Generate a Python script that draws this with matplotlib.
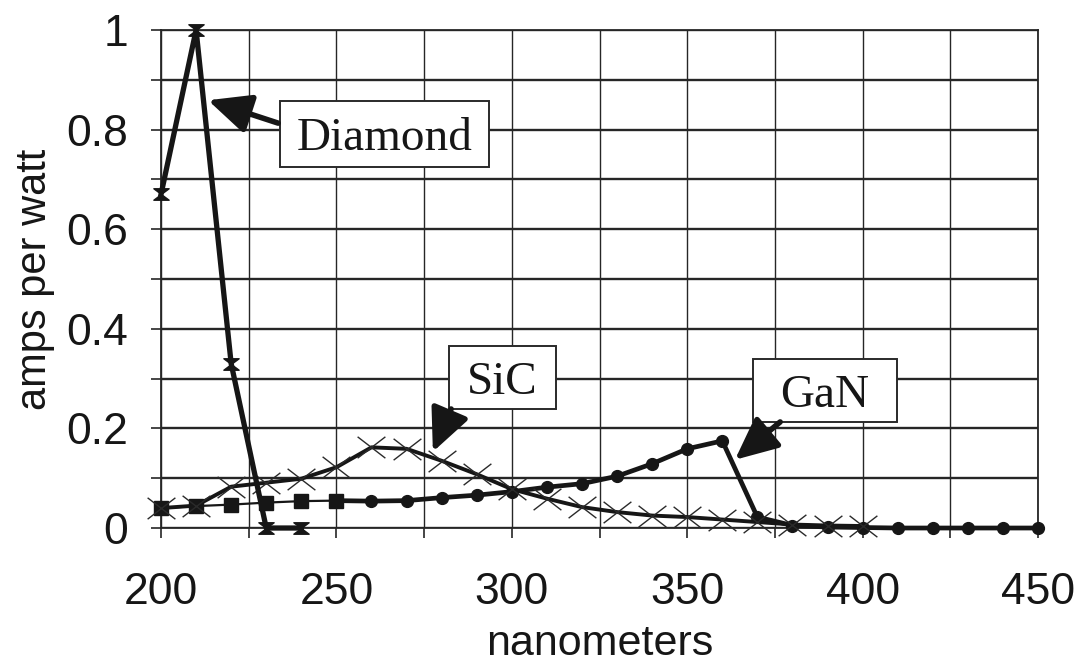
import matplotlib
matplotlib.use("Agg")
import matplotlib.pyplot as plt
from matplotlib.path import Path
from matplotlib.patches import Rectangle, FancyArrowPatch
from matplotlib.ticker import MultipleLocator

# Responsivity of wide-bandgap UV photodetectors
diamond_nm = [200, 210, 220, 230, 240]
diamond_apw = [0.67, 1.0, 0.33, 0.0, 0.0]

sic_nm = list(range(200, 401, 10))
sic_apw = [0.040, 0.045, 0.083, 0.091, 0.099, 0.122, 0.162, 0.159, 0.135, 0.108,
           0.078, 0.059, 0.042, 0.032, 0.025, 0.022, 0.017, 0.012, 0.007, 0.005, 0.004]

square_nm = [200, 210, 220, 230, 240, 250]
square_apw = [0.040, 0.044, 0.047, 0.051, 0.054, 0.055]

gan_nm = list(range(250, 451, 10))
gan_apw = [0.055, 0.054, 0.055, 0.061, 0.066, 0.073, 0.082, 0.089, 0.104, 0.129,
           0.159, 0.175, 0.022, 0.005, 0.002, 0.001, 0.0, 0.0, 0.0, 0.0, 0.0]

x_ticks = [200, 250, 300, 350, 400, 450]
y_ticks = [0, 0.2, 0.4, 0.6, 0.8, 1]
y_tick_labels = ["0", "0.2", "0.4", "0.6", "0.8", "1"]

INK = "#161616"
GRID = "#262626"
SANS = "Liberation Sans"
SERIF = "Liberation Serif"

fig = plt.figure(figsize=(10.77, 6.64), dpi=100)
ax = fig.add_axes([0.1495, 0.2048, 0.8143, 0.7500])
ax.set_xlim(200, 450)
ax.set_ylim(0, 1)

# grid every 25 nm and every 0.1 A/W, labels every 50 nm / 0.2 A/W
ax.xaxis.set_major_locator(MultipleLocator(50))
ax.xaxis.set_minor_locator(MultipleLocator(25))
ax.yaxis.set_major_locator(MultipleLocator(0.2))
ax.yaxis.set_minor_locator(MultipleLocator(0.1))
ax.set_xticks(x_ticks)
ax.set_yticks(y_ticks)
ax.set_yticklabels(y_tick_labels)
ax.grid(True, which="both", axis="x", color=GRID, lw=1.0)
ax.grid(True, which="both", axis="y", color=GRID, lw=1.7)
ax.set_axisbelow(True)
for side in ax.spines.values():
    side.set_color(GRID)
    side.set_linewidth(1.3)
ax.tick_params(which="both", direction="out", length=7.5, width=1.2, color=GRID)
ax.tick_params(axis="x", which="major", pad=24, labelsize=32)
ax.tick_params(axis="y", which="major", pad=16, labelsize=32)
for lab in ax.get_xticklabels() + ax.get_yticklabels():
    lab.set_fontfamily(SANS)
    lab.set_color(INK)

ax.set_xlabel("nanometers", fontsize=31, fontfamily=SANS, color=INK, labelpad=8)
ax.set_ylabel("amps per watt", fontsize=30, fontfamily=SANS, color=INK, labelpad=8)

# hourglass marker for diamond, wide cross for SiC
hourglass = Path([(-1, 0.75), (1, 0.75), (0, 0), (1, -0.75), (-1, -0.75), (0, 0), (-1, 0.75)],
                 [Path.MOVETO, Path.LINETO, Path.LINETO, Path.LINETO, Path.LINETO, Path.LINETO,
                  Path.CLOSEPOLY])
wide_x = Path([(-1.3, -1), (1.3, 1), (-1.3, 1), (1.3, -1)],
              [Path.MOVETO, Path.LINETO, Path.MOVETO, Path.LINETO])

ax.plot(square_nm, square_apw, color=INK, lw=1.6, marker="s", ms=9.5,
        mfc=INK, mec=INK, clip_on=False, zorder=3)
ax.plot(gan_nm, gan_apw, color=INK, lw=3.4, marker="o", ms=8.5,
        mfc=INK, mec=INK, markevery=slice(1, None), clip_on=False, zorder=4)
ax.plot(sic_nm, sic_apw, color=INK, lw=2.8, marker=wide_x, ms=20, mew=1.0,
        mec="#2a2a2a", clip_on=False, zorder=5)
ax.plot(diamond_nm, diamond_apw, color=INK, lw=3.8, marker=hourglass, ms=11,
        mfc=INK, mec=INK, clip_on=False, zorder=6)


def callout(text, x0, x1, y0, y1, tail, tip):
    ax.add_patch(Rectangle((x0, y0), x1 - x0, y1 - y0, facecolor="white",
                           edgecolor="#2a2a2a", lw=1.4, zorder=7))
    ax.text((x0 + x1) / 2, (y0 + y1) / 2, text, fontsize=34, fontfamily=SERIF,
            color=INK, ha="center", va="center_baseline", zorder=8)
    ax.add_patch(FancyArrowPatch(tail, tip, arrowstyle="-|>,head_length=1.3,head_width=0.6",
                                 mutation_scale=20, lw=4, color=INK,
                                 shrinkA=0, shrinkB=0, zorder=8))


callout("Diamond", 233.9, 293.5, 0.725, 0.857, (233.4, 0.813), (213.4, 0.859))
callout("SiC", 282.1, 312.6, 0.239, 0.365, (282.7, 0.239), (277.5, 0.153))
callout("GaN", 368.8, 409.8, 0.213, 0.339, (376.5, 0.213), (363.6, 0.137))

fig.savefig("out.png", dpi=100, facecolor="white")
